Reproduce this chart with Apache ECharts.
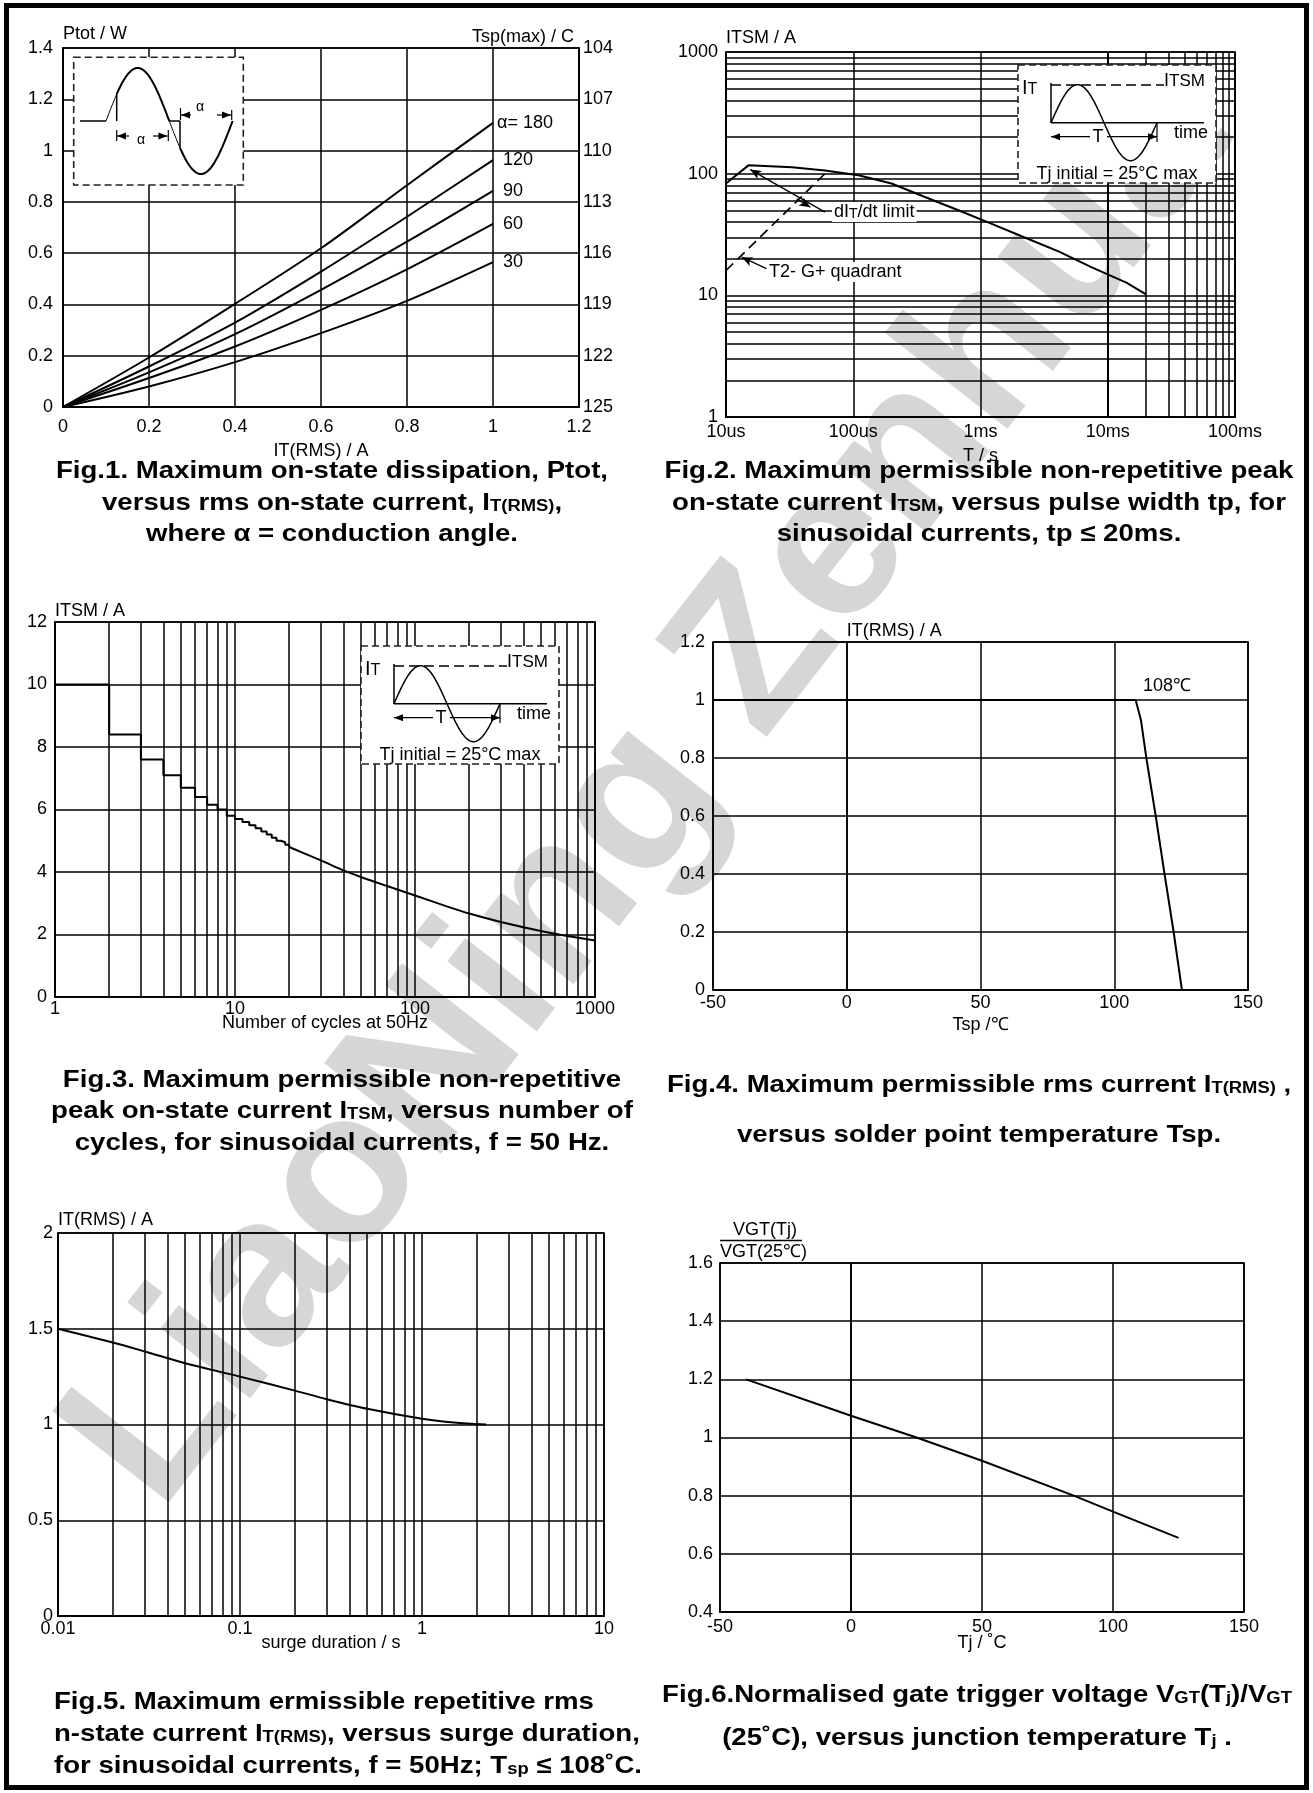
<!DOCTYPE html>
<html><head><meta charset="utf-8">
<script src="https://cdn.jsdelivr.net/npm/echarts/dist/echarts.min.js"></script>
<style>html,body{margin:0;padding:0;background:#fff}#c{width:1313px;height:1793px}</style>
</head><body><div id="c"></div>
<script>
const FONT = '"Liberation Sans", Arial, Helvetica, sans-serif';

// ---------- Fig.1 data ----------
const fig1X = [0, 0.2, 0.4, 0.6, 0.8, 1.0];
const fig1A180 = [0, 0.193, 0.402, 0.619, 0.865, 1.108];
const fig1A120 = [0, 0.158, 0.329, 0.528, 0.742, 0.963];
const fig1A90 = [0, 0.135, 0.284, 0.457, 0.645, 0.843];
const fig1A60 = [0, 0.113, 0.236, 0.379, 0.537, 0.714];
const fig1A30 = [0, 0.080, 0.175, 0.288, 0.414, 0.565];
const fig1CurveLabels = ['α= 180', '120', '90', '60', '30'];
const fig1TspLabels = ['125', '122', '119', '116', '113', '110', '107', '104'];

// ---------- Fig.2 data ----------
const fig2T = [1e-5, 1.5e-5, 3.3e-5, 6e-5, 1.1e-4, 2e-4, 3.7e-4, 6.7e-4, 1.2e-3, 2.2e-3, 4.1e-3, 7.5e-3, 1.4e-2, 2e-2];
const fig2I = [83, 117, 113, 106, 97, 83, 64, 50, 39, 30, 23.0, 17.0, 12.7, 10.2];
const fig2QuadT = [1e-5, 6e-5];
const fig2QuadI = [16, 100];
const fig2XLabels = ['10us', '100us', '1ms', '10ms', '100ms'];
const fig2YLabels = ['1', '10', '100', '1000'];

// ---------- Fig.3 data ----------
const fig3StepN = [1, 2, 3, 4, 5, 6, 7, 8, 9, 10, 11, 12, 13, 14, 15, 16, 17, 18, 19, 20];
const fig3StepI = [10, 8.4, 7.6, 7.1, 6.7, 6.4, 6.15, 6.0, 5.8, 5.7, 5.6, 5.5, 5.4, 5.3, 5.2, 5.1, 5.0, 4.95, 4.87, 4.8];
const fig3N = [20, 30, 40, 50, 70, 100, 150, 200, 300, 500, 700, 1000];
const fig3I = [4.8, 4.37, 4.05, 3.84, 3.55, 3.25, 2.9, 2.67, 2.4, 2.11, 1.95, 1.81];
const fig3XLabels = ['1', '10', '100', '1000'];

// ---------- Fig.4 data ----------
const fig4T = [-50, 108, 110, 112, 115.5, 118.8, 122.2, 125.3];
const fig4I = [1, 1, 0.93, 0.8, 0.6, 0.4, 0.2, 0];

// ---------- Fig.5 data ----------
const fig5T = [0.01, 0.02, 0.03, 0.05, 0.1, 0.2, 0.3, 0.5, 1, 1.5, 2.25];
const fig5I = [1.5, 1.428, 1.381, 1.32, 1.25, 1.177, 1.132, 1.082, 1.03, 1.01, 1.0];
const fig5XLabels = ['0.01', '0.1', '1', '10'];

// ---------- Fig.6 data ----------
const fig6T = [-40, 0, 25, 50, 85, 100, 125];
const fig6V = [1.2, 1.075, 1.0, 0.92, 0.8, 0.745, 0.655];

// log grid multipliers
const decadeSteps = [2, 3, 4, 5, 6, 7, 8, 9];
function logMinor(kFrom, kTo) {
  const out = [];
  for (let k = kFrom; k <= kTo; k++) for (const m of decadeSteps) out.push(m * Math.pow(10, k));
  return out;
}
const zip = (xs, ys) => xs.map((x, i) => [x, ys[i]]);
const lg = v => Math.round(Math.log10(v));

const LF = 18; // tick label / axis name font size
const GW = 1.5; // grid line width
const GRID_LINE = { color: '#000', width: GW };
const AXIS_LINE = { show: true, lineStyle: { color: '#000', width: 1.7 } };
const nameStyle = align => ({ color: '#000', fontSize: LF, fontFamily: FONT, align: align });

function axisBase(gi, type, extra, labelMargin, labelFmt) {
  const a = {
    gridIndex: gi, type: type,
    axisLine: AXIS_LINE, axisTick: { show: false },
    axisLabel: { color: '#000', fontSize: LF, fontFamily: FONT, margin: labelMargin, formatter: labelFmt },
    splitLine: { show: true, lineStyle: GRID_LINE },
    nameTextStyle: { color: '#000', fontSize: LF, fontFamily: FONT },
    nameMoveOverlap: false
  };
  if (type === 'log') a.logBase = 10;
  return Object.assign(a, extra);
}

const grids = [
  { left: 63, top: 48, width: 516, height: 359 },
  { left: 726, top: 52, width: 509, height: 365 },
  { left: 55, top: 622, width: 540, height: 375 },
  { left: 713, top: 642, width: 535, height: 348 },
  { left: 58, top: 1233, width: 546, height: 383 },
  { left: 720, top: 1263, width: 524, height: 349 }
].map(g => Object.assign(g, { show: true, borderColor: '#000', borderWidth: 1.7, backgroundColor: 'transparent', containLabel: false, outerBoundsMode: 'none' }));

const xAxes = [
  axisBase(0, 'value', { min: 0, max: 1.2, interval: 0.2, name: 'IT(RMS) / A', nameLocation: 'middle', nameGap: 35 }, 11),
  axisBase(1, 'log', { min: 1e-5, max: 1e-1, name: 'T / s', nameLocation: 'middle', nameGap: 30 }, 6, v => fig2XLabels[lg(v) + 5]),
  axisBase(2, 'log', { min: 1, max: 1000, name: 'Number of cycles at 50Hz', nameLocation: 'middle', nameGap: 17 }, 3, v => fig3XLabels[lg(v)]),
  axisBase(3, 'value', { min: -50, max: 150, interval: 50, name: 'Tsp /℃', nameLocation: 'middle', nameGap: 26 }, 4),
  axisBase(4, 'log', { min: 0.01, max: 10, name: 'surge duration / s', nameLocation: 'middle', nameGap: 18 }, 4, v => fig5XLabels[lg(v) + 2]),
  axisBase(5, 'value', { min: -50, max: 150, interval: 50, name: 'Tj / ˚C', nameLocation: 'middle', nameGap: 22 }, 6)
];

const yAxes = [
  axisBase(0, 'value', { min: 0, max: 1.4, interval: 0.2, name: 'Ptot / W', nameLocation: 'end', nameGap: 5, nameTextStyle: nameStyle('left') }, 10),
  axisBase(0, 'value', { min: 0, max: 1.4, interval: 0.2, position: 'right', splitLine: { show: false }, name: 'Tsp(max) / C', nameLocation: 'end', nameGap: 2, nameTextStyle: Object.assign(nameStyle('right'), { padding: [0, 5, 0, 0] }) }, 4, v => fig1TspLabels[Math.round(v / 0.2)]),
  axisBase(1, 'log', { min: 1, max: 1000, name: 'ITSM / A', nameLocation: 'end', nameGap: 5, nameTextStyle: nameStyle('left') }, 8, v => fig2YLabels[lg(v)]),
  axisBase(2, 'value', { min: 0, max: 12, interval: 2, name: 'ITSM / A', nameLocation: 'end', nameGap: 2, nameTextStyle: nameStyle('left') }, 8),
  axisBase(3, 'value', { min: 0, max: 1.2, interval: 0.2, name: 'IT(RMS) / A', nameLocation: 'end', nameGap: 2, nameTextStyle: nameStyle('left') }, 8),
  axisBase(4, 'value', { min: 0, max: 2, interval: 0.5, name: 'IT(RMS) / A', nameLocation: 'end', nameGap: 4, nameTextStyle: nameStyle('left') }, 5),
  axisBase(5, 'value', { min: 0.4, max: 1.6, interval: 0.2 }, 7)
];

function curve(xi, yi, xs, ys, extra) {
  return Object.assign({
    type: 'line', xAxisIndex: xi, yAxisIndex: yi, data: zip(xs, ys),
    symbol: 'none', showSymbol: false, silent: true, z: 5,
    lineStyle: { color: '#000', width: 2 }
  }, extra);
}
function minorGrid(xi, yi, anchor, xs, ys) {
  return {
    type: 'line', xAxisIndex: xi, yAxisIndex: yi, data: [anchor], symbol: 'none', showSymbol: false,
    lineStyle: { width: 0 }, silent: true, z: 1,
    markLine: {
      silent: true, symbol: ['none', 'none'], label: { show: false }, animation: false,
      lineStyle: { color: '#000', width: GW, type: 'solid' }, emphasis: { disabled: true },
      data: xs.map(v => ({ xAxis: v })).concat(ys.map(v => ({ yAxis: v })))
    }
  };
}

const fig1Series = [fig1A180, fig1A120, fig1A90, fig1A60, fig1A30].map((ys, i) => curve(0, 0, fig1X, ys, {
  smooth: 0.3,
  endLabel: { show: true, formatter: fig1CurveLabels[i], color: '#000', fontSize: LF, fontFamily: FONT, distance: i === 0 ? 4 : 10 }
}));

const series = fig1Series.concat([
  minorGrid(1, 2, [1e-5, 1], logMinor(-5, -2), logMinor(0, 2)),
  curve(1, 2, fig2T, fig2I),
  curve(1, 2, fig2QuadT, fig2QuadI, {
    lineStyle: { color: '#000', width: 1.7, type: [10, 6] },
    markLine: {
      silent: true, symbol: ['none', 'arrow'], symbolSize: [7, 11], label: { show: false }, animation: false,
      lineStyle: { color: '#000', width: 1.3, type: 'solid' }, emphasis: { disabled: true },
      data: [
        [{ coord: [6.0e-5, 48.3] }, { coord: [1.55e-5, 108] }],
        [{ coord: [3.6e-5, 62] }, { coord: [4.6e-5, 53] }],
        [{ coord: [2.08e-5, 16.6] }, { coord: [1.33e-5, 20.6] }]
      ]
    }
  }),
  minorGrid(2, 3, [1, 0], logMinor(0, 2), []),
  curve(2, 3, fig3StepN, fig3StepI, { step: 'end' }),
  curve(2, 3, fig3N, fig3I, { smooth: 0.3 }),
  curve(3, 4, fig4T, fig4I),
  minorGrid(4, 5, [0.01, 0], logMinor(-2, 0), []),
  curve(4, 5, fig5T, fig5I, { smooth: 0.3 }),
  curve(5, 6, fig6T, fig6V)
]);

// ---------- graphic helpers ----------
const SUB = size => ({ s: { fontSize: Math.round(size * 0.75), fontFamily: FONT, fill: '#000', lineHeight: 8, verticalAlign: 'bottom' } });
function txt(x, y, t, size, align, extra) {
  return { type: 'text', x: x, y: y, z: 40, silent: true,
    style: Object.assign({ text: t, font: size + 'px ' + FONT, fill: '#000', textAlign: align, textVerticalAlign: 'middle', rich: SUB(size) }, extra || {}) };
}
const CF = 24, SX = 1.15;
function cap(x, y, t, align) {
  return { type: 'text', x: x, y: y, scaleX: SX, z: 20, silent: true,
    style: { text: t, font: 'bold ' + CF + 'px ' + FONT, fill: '#000', textAlign: align || 'center', textVerticalAlign: 'middle',
      rich: { s: { fontSize: 16, fontWeight: 'bold', fontFamily: FONT, fill: '#000', lineHeight: 8, verticalAlign: 'bottom' } } } };
}
function ln(x1, y1, x2, y2, w, dash) {
  return { type: 'line', z: 36, silent: true, shape: { x1, y1, x2, y2 }, style: { stroke: '#000', lineWidth: w || 1.5, lineDash: dash || null } };
}
function poly(pts, w) {
  return { type: 'polyline', z: 36, silent: true, shape: { points: pts }, style: { stroke: '#000', lineWidth: w || 1.5, fill: null } };
}
function tri(x, y, dir) {
  const d = dir === 'l' ? 1 : -1;
  return { type: 'polygon', z: 37, silent: true, shape: { points: [[x, y], [x + d * 9, y - 3.5], [x + d * 9, y + 3.5]] }, style: { fill: '#000' } };
}
function box(x, y, w, h) {
  return { type: 'rect', z: 35, silent: true, shape: { x, y, width: w, height: h }, style: { fill: '#fff', stroke: '#222', lineWidth: 1.6, lineDash: [7, 4] } };
}
function sinePts(xa, xb, xz, y0, amp, half) {
  const p = [];
  const n = Math.max(2, Math.ceil(xb - xa));
  for (let i = 0; i <= n; i++) { const x = xa + (xb - xa) * i / n; p.push([x, y0 - amp * Math.sin(Math.PI * (x - xz) / half)]); }
  return p;
}
function inset2(bx, by) {
  const e = [];
  e.push(box(bx, by, 198, 118));
  e.push(txt(bx + 4, by + 23, 'I{s|T}', 20, 'left', { rich: { s: { fontSize: 16, fontFamily: FONT, fill: '#000', lineHeight: 6, verticalAlign: 'bottom' } } }));
  e.push(ln(bx + 33, by + 18, bx + 33, by + 58, 1.5));
  e.push(ln(bx + 33, by + 57.7, bx + 186, by + 57.7, 1.5));
  e.push(ln(bx + 33, by + 20, bx + 146, by + 20, 1.5, [10, 5]));
  e.push(txt(bx + 146, by + 16, 'I{s|TSM}', 18, 'left', { rich: { s: { fontSize: 17, fontFamily: FONT, fill: '#000', lineHeight: 6, verticalAlign: 'bottom' } } }));
  e.push(poly(sinePts(bx + 33, bx + 139, bx + 33, by + 57.7, 38, 53), 1.5));
  e.push(ln(bx + 139, by + 57.7, bx + 139, by + 77, 1.2));
  e.push(ln(bx + 33, by + 71.7, bx + 72, by + 71.7, 1.2));
  e.push(tri(bx + 33, by + 71.7, 'l'));
  e.push(txt(bx + 80, by + 71.7, 'T', 18, 'center'));
  e.push(ln(bx + 89, by + 71.7, bx + 139, by + 71.7, 1.2));
  e.push(tri(bx + 139, by + 71.7, 'r'));
  e.push(txt(bx + 156, by + 68, 'time', 18, 'left'));
  e.push(txt(bx + 99, by + 109, 'Tj initial = 25°C max', 18, 'center'));
  return e;
}
function inset1() {
  const e = [];
  const xz = 106, y0 = 121, A = 53, H = 63.3;
  e.push(box(73.7, 57.3, 169.6, 127.7));
  e.push(ln(80, y0, xz, y0, 1.5));
  e.push(poly(sinePts(xz, 116.7, xz, y0, A, H), 1));
  e.push(ln(116.7, y0, 116.7, 94.2, 1.5));
  e.push(poly(sinePts(116.7, 169.3, xz, y0, A, H), 2));
  e.push(ln(169.3, y0, 180, y0, 1.5));
  e.push(ln(180, y0, 180, 147.7, 1.5));
  e.push(poly(sinePts(169.3, 180, xz, y0, A, H), 1));
  e.push(poly(sinePts(180, 232.6, xz, y0, A, H), 2));
  // lower alpha dimension
  e.push(ln(116.7, 130, 116.7, 141, 1.2));
  e.push(ln(117, 136, 129, 136, 1.2)); e.push(tri(117, 136, 'l'));
  e.push(txt(141, 140, 'α', 14, 'center'));
  e.push(ln(153, 136, 167.5, 136, 1.2)); e.push(tri(167.5, 136, 'r'));
  e.push(ln(168.3, 130, 168.3, 141, 1.2));
  // upper alpha dimension
  e.push(ln(180.5, 108, 180.5, 120, 1.2));
  e.push(ln(181, 115, 191, 115, 1.2)); e.push(tri(181, 115, 'l'));
  e.push(txt(200, 107.5, 'α', 14, 'center'));
  e.push(ln(217, 115, 231, 115, 1.2)); e.push(tri(231, 115, 'r'));
  e.push(ln(231.7, 110, 231.7, 120, 1.2));
  return e;
}

const BG = { backgroundColor: '#fff', padding: [1, 2] };
let elements = [
  { type: 'text', x: 650, y: 790, rotation: 52 * Math.PI / 180, z: -100, silent: true,
    style: { text: 'LiaoNing Zenhua', font: 'bold 215px ' + FONT, fill: '#d6d6d6', textAlign: 'center', textVerticalAlign: 'middle' } },
  { type: 'rect', z: 50, silent: true, shape: { x: 6.5, y: 5.5, width: 1300, height: 1782 }, style: { fill: null, stroke: '#000', lineWidth: 5 } },
  // Fig.2 annotations
  txt(832, 212, 'dI{s|T}/dt limit', 18, 'left', BG),
  txt(767, 272, 'T2- G+ quadrant', 18, 'left', BG),
  // Fig.4 annotation
  txt(1143, 686, '108℃', 18, 'left'),
  // Fig.6 y-axis fraction name
  txt(765, 1230, 'VGT(Tj)', 18, 'center'),
  ln(720, 1240.5, 802, 1240.5, 1.3),
  txt(720, 1252, 'VGT(25℃)', 18, 'left'),
  // captions
  cap(332, 471, 'Fig.1. Maximum on-state dissipation, Ptot,'),
  cap(332, 503, 'versus rms on-state current, I{s|T(RMS)},'),
  cap(332, 534, 'where α = conduction angle.'),
  cap(979, 471, 'Fig.2. Maximum permissible non-repetitive peak'),
  cap(979, 503, 'on-state current I{s|TSM}, versus pulse width tp, for'),
  cap(979, 534, 'sinusoidal currents, tp ≤ 20ms.'),
  cap(342, 1080, 'Fig.3. Maximum permissible non-repetitive'),
  cap(342, 1111, 'peak on-state current I{s|TSM}, versus number of'),
  cap(342, 1143, 'cycles, for sinusoidal currents, f = 50 Hz.'),
  cap(979, 1085, 'Fig.4. Maximum permissible rms current I{s|T(RMS)} ,'),
  cap(979, 1135, 'versus solder point temperature Tsp.'),
  cap(54, 1702, 'Fig.5. Maximum ermissible repetitive rms', 'left'),
  cap(54, 1734, 'n-state current I{s|T(RMS)}, versus surge duration,', 'left'),
  cap(54, 1766, 'for sinusoidal currents, f = 50Hz; T{s|sp} ≤ 108˚C.', 'left'),
  cap(977, 1695, 'Fig.6.Normalised gate trigger voltage V{s|GT}(T{s|j})/V{s|GT}'),
  cap(977, 1738, '(25˚C), versus junction temperature T{s|j} .')
];
elements = elements.concat(inset1(), inset2(1018, 65), inset2(361, 646));

const chart = echarts.init(document.getElementById('c'), null, { renderer: 'canvas' });
chart.setOption({
  animation: false,
  backgroundColor: '#fff',
  textStyle: { fontFamily: FONT },
  grid: grids,
  xAxis: xAxes,
  yAxis: yAxes,
  series: series,
  graphic: { elements: elements }
});
</script></body></html>
